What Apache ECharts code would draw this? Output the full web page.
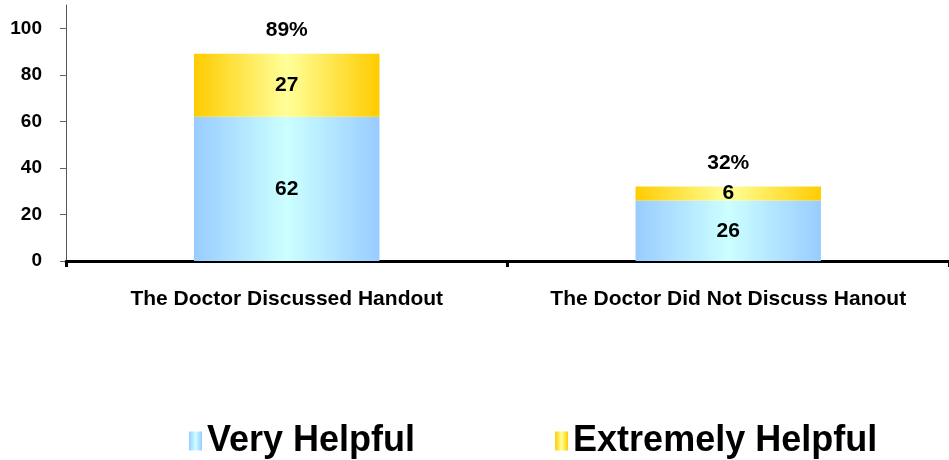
<!DOCTYPE html>
<html>
<head>
<meta charset="utf-8">
<script src="https://cdn.jsdelivr.net/npm/echarts@6/dist/echarts.min.js"></script>
<style>
html,body{margin:0;padding:0;background:#fff;}
#chart{width:949px;height:460px;}
</style>
</head>
<body>
<div id="chart"></div>
<script>
var categories = ['The Doctor Discussed Handout', 'The Doctor Did Not Discuss Hanout'];
var veryHelpful = [62, 26];
var extremelyHelpful = [27, 6];
var totals = [89, 32];
var seriesNames = ['Very Helpful', 'Extremely Helpful'];

var FONT = '"Liberation Sans", Arial, sans-serif';
function hGrad(edge, mid) {
  return new echarts.graphic.LinearGradient(0, 0, 1, 0, [
    {offset: 0, color: edge}, {offset: 0.5, color: mid}, {offset: 1, color: edge}
  ]);
}
var chart = echarts.init(document.getElementById('chart'));
chart.setOption({
  backgroundColor: '#fff',
  animation: false,
  grid: {left: 66, right: -9, top: 5, bottom: 199, containLabel: false},
  legend: {
    data: seriesNames,
    left: 184, top: 418,
    icon: 'rect', itemWidth: 13, itemHeight: 19, itemGap: 140,
    textStyle: {fontFamily: FONT, fontWeight: 'bold', fontSize: 36, color: '#000'}
  },
  xAxis: {
    type: 'category', data: categories,
    axisLine: {lineStyle: {color: '#000', width: 3}},
    axisTick: {show: true, interval: 0, length: 6, lineStyle: {color: '#000', width: 3}},
    axisLabel: {interval: 0, hideOverlap: false, fontFamily: FONT, fontWeight: 'bold', fontSize: 21, color: '#000', margin: 28}
  },
  yAxis: {
    type: 'value', min: 0, max: 110, interval: 20,
    axisLine: {show: true, lineStyle: {color: '#555', width: 1}},
    axisTick: {show: true, length: 6, lineStyle: {color: '#666', width: 1}},
    splitLine: {show: false},
    axisLabel: {showMaxLabel: false, fontFamily: FONT, fontWeight: 'bold', fontSize: 19, color: '#000', margin: 24,
      formatter: function (v) { return v > 100 ? '' : v; }}
  },
  series: [
    {
      name: seriesNames[0], type: 'bar', stack: 'a', data: veryHelpful, barWidth: '42%',
      itemStyle: {color: hGrad('#99ccff', '#ccffff')},
      label: {show: true, position: 'inside', fontFamily: FONT, fontWeight: 'bold', fontSize: 21, color: '#000'}
    },
    {
      name: seriesNames[1], type: 'bar', stack: 'a', data: extremelyHelpful, barWidth: '42%',
      itemStyle: {color: hGrad('#ffcc00', '#ffff99')},
      label: {show: true, position: 'inside', fontFamily: FONT, fontWeight: 'bold', fontSize: 21, color: '#000'}
    },
    {
      name: 'Total', type: 'scatter', data: totals, symbolSize: 0, silent: true,
      itemStyle: {opacity: 1, color: '#000'},
      label: {show: true, position: 'top', distance: 13, formatter: '{c}%', fontFamily: FONT, fontWeight: 'bold', fontSize: 21, color: '#000', opacity: 1}
    }
  ]
});
</script>
</body>
</html>
